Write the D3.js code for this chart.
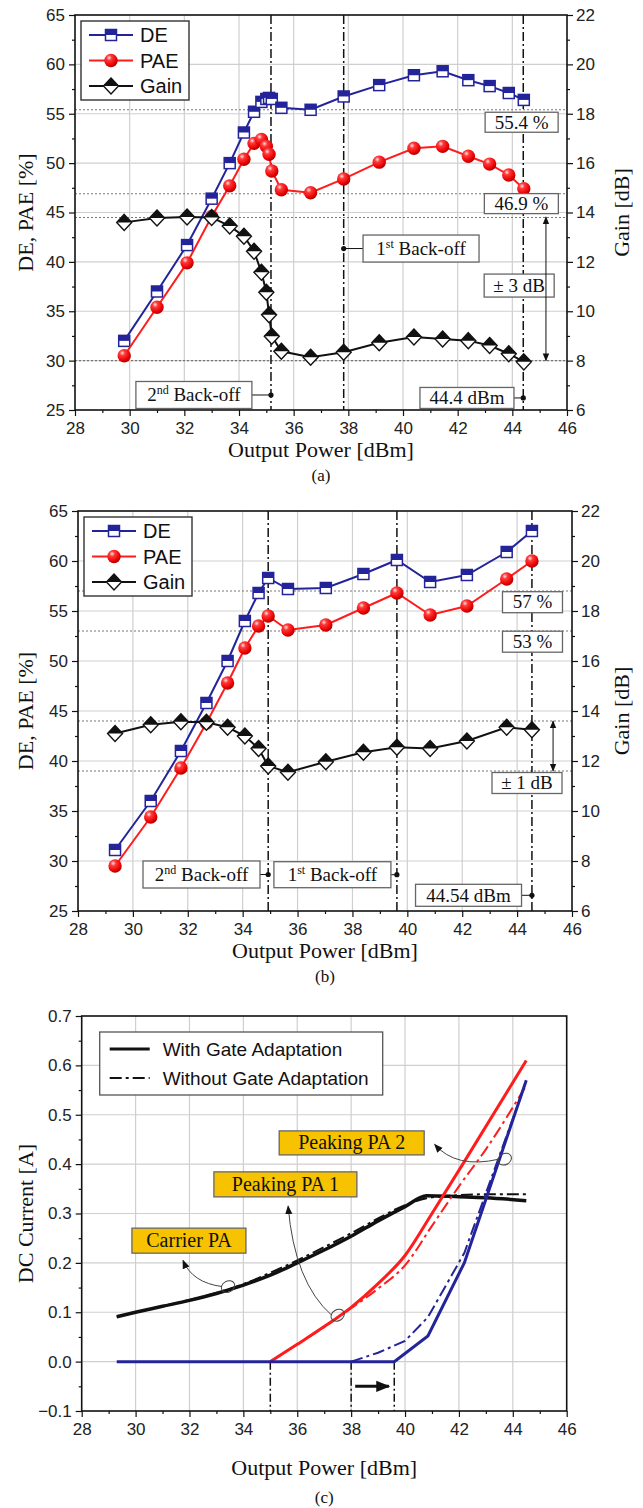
<!DOCTYPE html>
<html>
<head>
<meta charset="utf-8">
<script src="https://cdn.jsdelivr.net/npm/d3@7"></script>
<style>
  body { margin: 0; background: #fff; }
  svg { display: block; }
  .tick text { font-family: "Liberation Sans", Arial, sans-serif; font-size: 17px; fill: #222; }
  .tick line { stroke: #111; stroke-width: 1.2; }
  .serif { font-family: "Liberation Serif", "Times New Roman", serif; fill: #111; }
  .sans { font-family: "Liberation Sans", Arial, sans-serif; fill: #111; }
</style>
</head>
<body>
<svg id="chart" width="643" height="1508"></svg>
<script>
// ---- axis ticks ----
const powerTicks = d3.range(28, 47, 2);
const powerMinor = d3.range(29, 46, 2);
const effTicks = d3.range(25, 66, 5);
const effMinor = d3.range(27.5, 65, 5);
const gainTicks = d3.range(6, 23, 2);
const gainMinor = d3.range(7, 22, 2);
const currentTicks = [-0.1, 0.0, 0.1, 0.2, 0.3, 0.4, 0.5, 0.6, 0.7];
const currentMinor = [-0.05, 0.05, 0.15, 0.25, 0.35, 0.45, 0.55, 0.65];

// ---- (a) measured ----
const powerA = [29.8, 31.0, 32.1, 33.0, 33.66, 34.18, 34.55, 34.82, 35.0, 35.1, 35.2, 35.55, 36.62, 37.83, 39.13, 40.4, 41.45, 42.39, 43.17, 43.87, 44.42];
const deA    = [32.0, 37.0, 41.7, 46.4, 50.0, 53.1, 55.2, 56.2, 56.5, 56.6, 56.5, 55.6, 55.4, 56.75, 57.9, 58.9, 59.3, 58.4, 57.8, 57.1, 56.4];
const paeA   = [30.5, 35.4, 39.9, 44.6, 47.7, 50.4, 52.0, 52.4, 51.7, 50.9, 49.2, 47.3, 47.0, 48.4, 50.1, 51.5, 51.7, 50.7, 49.9, 48.8, 47.4];
const gainA  = [13.6, 13.78, 13.82, 13.8, 13.45, 13.04, 12.43, 11.58, 10.77, 9.86, 8.99, 8.38, 8.14, 8.34, 8.72, 8.96, 8.88, 8.81, 8.61, 8.28, 7.95];
const backoffA = [35.17, 37.83, 44.4];
const refEffA = [55.4, 46.9];
const refGainA = [13.8, 8.0];

// ---- (b) measured ----
const powerB = [29.35, 30.65, 31.75, 32.68, 33.45, 34.08, 34.58, 34.93, 35.65, 37.03, 38.4, 39.62, 40.83, 42.17, 43.62, 44.54];
const deB    = [31.1, 36.0, 41.0, 45.8, 50.0, 54.0, 56.8, 58.3, 57.2, 57.3, 58.7, 60.1, 57.9, 58.6, 60.9, 63.0];
const paeB   = [29.5, 34.4, 39.3, 43.8, 47.8, 51.3, 53.5, 54.5, 53.1, 53.6, 55.3, 56.8, 54.6, 55.5, 58.2, 60.0];
const gainB  = [13.1, 13.45, 13.57, 13.55, 13.35, 13.0, 12.5, 11.8, 11.55, 11.97, 12.35, 12.55, 12.5, 12.8, 13.35, 13.25];
const backoffB = [34.93, 39.62, 44.54];
const refEffB = [57, 53];
const refGainB = [13.6, 11.6];

// ---- (c) DC current ----
const carrierPower   = [29.3, 30, 31, 32, 33, 34, 35, 36, 37, 38, 39, 40, 40.8, 42, 43, 44.5];
const carrierWith    = [0.091, 0.1, 0.112, 0.124, 0.138, 0.155, 0.175, 0.2, 0.226, 0.254, 0.285, 0.314, 0.336, 0.334, 0.332, 0.326];
const carrierWithout = [0.091, 0.1, 0.112, 0.125, 0.139, 0.157, 0.18, 0.205, 0.232, 0.26, 0.29, 0.317, 0.331, 0.337, 0.339, 0.339];
const peak1PowerWith = [35, 36, 37, 38, 39, 40, 41, 42.2, 44.5];
const peak1With      = [0, 0.035, 0.071, 0.11, 0.158, 0.215, 0.3, 0.405, 0.61];
const peak1PowerWithout = [35, 36, 37, 38, 39, 40, 41, 42, 43, 44.45];
const peak1Without      = [0, 0.035, 0.07, 0.108, 0.148, 0.195, 0.275, 0.355, 0.43, 0.555];
const peak2PowerWith = [29.3, 39.6, 40.85, 42.2, 44.5];
const peak2With      = [0, 0, 0.052, 0.2, 0.57];
const peak2PowerWithout = [38, 39, 40, 40.85, 42.2, 44.45];
const peak2Without      = [0, 0.018, 0.042, 0.09, 0.22, 0.56];
const turnOnPower = [35, 38, 39.6];

const svg = d3.select('#chart');
const navy = '#24249a', red = '#ff1c1c', dark = '#111';

const defs = svg.append('defs');
const grad = defs.append('radialGradient').attr('id', 'ball').attr('cx', '36%').attr('cy', '30%').attr('r', '70%');
grad.append('stop').attr('offset', '0%').attr('stop-color', '#ffe4e4');
grad.append('stop').attr('offset', '28%').attr('stop-color', '#ff3a3a');
grad.append('stop').attr('offset', '80%').attr('stop-color', '#e80000');
grad.append('stop').attr('offset', '100%').attr('stop-color', '#b00000');
function arrowMarker(id, size) {
    defs.append('marker').attr('id', id).attr('viewBox', '0 0 10 10')
        .attr('refX', 9).attr('refY', 5)
        .attr('markerWidth', size).attr('markerHeight', size)
        .attr('markerUnits', 'userSpaceOnUse').attr('orient', 'auto-start-reverse')
        .append('path').attr('d', 'M0,1 L10,5 L0,9 Z').attr('fill', dark);
}
arrowMarker('head', 8);
arrowMarker('headBig', 14);
arrowMarker('headThin', 9);

function grid(g, x, y, xs, ys) {
    g.append('g').selectAll('line').data(xs).join('line')
        .attr('x1', d => x(d)).attr('x2', d => x(d))
        .attr('y1', y.range()[0]).attr('y2', y.range()[1])
        .attr('stroke', '#cfcfcf').attr('stroke-width', 1.2);
    g.append('g').selectAll('line').data(ys).join('line')
        .attr('y1', d => y(d)).attr('y2', d => y(d))
        .attr('x1', x.range()[0]).attr('x2', x.range()[1])
        .attr('stroke', '#cfcfcf').attr('stroke-width', 1.2);
}

function axes(g, x, y, yRight, yT, yM, yRT, yRM, fmt) {
    const [x0, x1] = x.range(), [y0, y1] = y.range();
    const clean = s => s.select('.domain').remove();
    g.append('g').attr('transform', `translate(0,${y0})`)
        .call(d3.axisBottom(x).tickValues(powerTicks).tickSize(6).tickPadding(6)).call(clean);
    g.append('g').attr('transform', `translate(0,${y0})`)
        .call(d3.axisBottom(x).tickValues(powerMinor).tickSize(3).tickFormat('')).call(clean);
    g.append('g').attr('transform', `translate(${x0},0)`)
        .call(d3.axisLeft(y).tickValues(yT).tickSize(6).tickPadding(4).tickFormat(fmt)).call(clean);
    g.append('g').attr('transform', `translate(${x0},0)`)
        .call(d3.axisLeft(y).tickValues(yM).tickSize(3).tickFormat('')).call(clean);
    if (yRight) {
        g.append('g').attr('transform', `translate(${x1},0)`)
            .call(d3.axisRight(yRight).tickValues(yRT).tickSize(6).tickPadding(3)).call(clean);
        g.append('g').attr('transform', `translate(${x1},0)`)
            .call(d3.axisRight(yRight).tickValues(yRM).tickSize(3).tickFormat('')).call(clean);
    }
    g.append('rect').attr('x', x0).attr('y', y1).attr('width', x1 - x0).attr('height', y0 - y1)
        .attr('fill', 'none').attr('stroke', dark).attr('stroke-width', 1.6);
}

function labelBox(g, cx, cy, w, h, parts, opt) {
    opt = opt || {};
    const size = opt.size || 19;
    g.append('rect').attr('x', cx - w / 2).attr('y', cy - h / 2).attr('width', w).attr('height', h)
        .attr('fill', opt.fill || '#fff').attr('stroke', opt.stroke || '#666').attr('stroke-width', 1.3);
    const t = g.append('text').attr('class', 'serif').attr('x', cx).attr('y', cy + size * 0.33)
        .attr('text-anchor', 'middle').style('font-size', size + 'px');
    parts.forEach(p => {
        const ts = t.append('tspan').text(p.t);
        if (p.sup) ts.attr('baseline-shift', 'super').style('font-size', '12px');
    });
}

function dotLink(g, dx, cx, cy, w) {
    const edge = dx > cx ? cx + w / 2 : cx - w / 2;
    g.append('line').attr('x1', dx).attr('x2', edge).attr('y1', cy).attr('y2', cy)
        .attr('stroke', dark).attr('stroke-width', 1);
    g.append('circle').attr('cx', dx).attr('cy', cy).attr('r', 2.6).attr('fill', dark);
}

function legendAB(g, bx, by) {
    g.append('rect').attr('x', bx).attr('y', by).attr('width', 108).attr('height', 79)
        .attr('fill', '#fff').attr('stroke', '#333').attr('stroke-width', 1.4);
    const rows = [['DE', navy, 'sq'], ['PAE', red, 'ball'], ['Gain', dark, 'dia']];
    rows.forEach((r, i) => {
        const yy = by + 14 + i * 25.5;
        g.append('line').attr('x1', bx + 8).attr('x2', bx + 52).attr('y1', yy).attr('y2', yy)
            .attr('stroke', r[1]).attr('stroke-width', 2);
        const m = g.append('g').attr('transform', `translate(${bx + 30},${yy})`);
        drawMarker(m, r[2]);
        g.append('text').attr('class', 'sans').attr('x', bx + 59).attr('y', yy + 7)
            .style('font-size', '20px').text(r[0]);
    });
}

function drawMarker(sel, kind) {
    if (kind === 'sq') {
        sel.append('rect').attr('x', -5.5).attr('y', -5.5).attr('width', 11).attr('height', 11)
            .attr('fill', '#fff').attr('stroke', navy).attr('stroke-width', 1.5);
        sel.append('rect').attr('x', -5.5).attr('y', -5.5).attr('width', 11).attr('height', 5.5).attr('fill', navy);
    } else if (kind === 'ball') {
        sel.append('circle').attr('r', 6.7).attr('fill', 'url(#ball)');
    } else {
        sel.append('path').attr('d', 'M0,-8 L7.5,0 L0,8 L-7.5,0 Z').attr('fill', '#fff')
            .attr('stroke', dark).attr('stroke-width', 1.4);
        sel.append('path').attr('d', 'M0,-8 L7.5,0 L-7.5,0 Z').attr('fill', dark);
    }
}

function drawEffPanel(cfg) {
    const g = svg.append('g');
    const x = d3.scaleLinear().domain([28, 46]).range([cfg.left, cfg.right]);
    const y = d3.scaleLinear().domain([25, 65]).range([cfg.bottom, cfg.top]);
    const yg = d3.scaleLinear().domain([6, 22]).range([cfg.bottom, cfg.top]);

    grid(g, x, y, powerTicks.slice(1, -1), effTicks.slice(1, -1));

    const refs = cfg.refEff.map(v => y(v)).concat(cfg.refGain.map(v => yg(v)));
    g.append('g').selectAll('line').data(refs).join('line')
        .attr('x1', cfg.left).attr('x2', cfg.right).attr('y1', d => d).attr('y2', d => d)
        .attr('stroke', '#777').attr('stroke-width', 1.1).attr('stroke-dasharray', '2,2');
    g.append('g').selectAll('line').data(cfg.backoff).join('line')
        .attr('x1', d => x(d)).attr('x2', d => x(d)).attr('y1', cfg.top).attr('y2', cfg.bottom)
        .attr('stroke', dark).attr('stroke-width', 1.5).attr('stroke-dasharray', '9,3,2,3');

    const series = [
        [cfg.de, y, navy, 'sq'],
        [cfg.pae, y, red, 'ball'],
        [cfg.gain, yg, dark, 'dia']
    ];
    series.forEach(([vals, sc, col, kind]) => {
        const pts = d3.zip(cfg.power, vals);
        g.append('path').datum(pts)
            .attr('d', d3.line().x(d => x(d[0])).y(d => sc(d[1])))
            .attr('fill', 'none').attr('stroke', col).attr('stroke-width', 2);
        g.append('g').selectAll('g').data(pts).join('g')
            .attr('transform', d => `translate(${x(d[0])},${sc(d[1])})`)
            .each(function () { drawMarker(d3.select(this), kind); });
    });

    cfg.boxes.forEach(b => {
        const cx = x(b.x), cy = y(b.y);
        if (b.dot !== undefined) dotLink(g, x(b.dot), cx, cy, b.w);
        labelBox(g, cx, cy, b.w, b.h, b.parts);
    });
    const ax = x(cfg.span.x);
    g.append('line').attr('x1', ax).attr('x2', ax)
        .attr('y1', y(cfg.span.from)).attr('y2', y(cfg.span.to))
        .attr('stroke', dark).attr('stroke-width', 1)
        .attr('marker-start', 'url(#head)').attr('marker-end', 'url(#head)');

    legendAB(g, cfg.left + 6, cfg.top + 6);
    axes(g, x, y, yg, effTicks, effMinor, gainTicks, gainMinor, d3.format('d'));

    const midY = (cfg.top + cfg.bottom) / 2;
    g.append('text').attr('class', 'serif').attr('transform', `translate(33,${midY}) rotate(-90)`)
        .attr('text-anchor', 'middle').style('font-size', '22px').text('DE, PAE [%]');
    g.append('text').attr('class', 'serif').attr('transform', `translate(629,${midY}) rotate(-90)`)
        .attr('text-anchor', 'middle').style('font-size', '22px').text('Gain [dB]');
    const midX = (cfg.left + cfg.right) / 2;
    g.append('text').attr('class', 'serif').attr('x', midX).attr('y', cfg.bottom + 47)
        .attr('text-anchor', 'middle').style('font-size', '22px').text('Output Power [dBm]');
    g.append('text').attr('class', 'serif').attr('x', midX).attr('y', cfg.bottom + 71)
        .attr('text-anchor', 'middle').style('font-size', '17px').text(cfg.caption);
}

const BO2 = [{ t: '2' }, { t: 'nd', sup: true }, { t: ' Back-off' }];
const BO1 = [{ t: '1' }, { t: 'st', sup: true }, { t: ' Back-off' }];

drawEffPanel({
    left: 75, right: 567, top: 15, bottom: 410,
    power: powerA, de: deA, pae: paeA, gain: gainA,
    refEff: refEffA, refGain: refGainA, backoff: backoffA,
    boxes: [
        { x: 44.34, y: 54.14, w: 73, h: 20, parts: [{ t: '55.4 %' }] },
        { x: 44.33, y: 45.9, w: 74, h: 20, parts: [{ t: '46.9 %' }] },
        { x: 40.66, y: 41.35, w: 116, h: 27, parts: BO1, dot: backoffA[1] },
        { x: 44.25, y: 37.6, w: 70, h: 23, parts: [{ t: '± 3 dB' }] },
        { x: 32.35, y: 26.52, w: 116, h: 27, parts: BO2, dot: backoffA[0] },
        { x: 42.34, y: 26.22, w: 94, h: 21, parts: [{ t: '44.4 dBm' }], dot: backoffA[2] }
    ],
    span: { x: 45.23, from: 44.55, to: 30 },
    caption: '(a)'
});

drawEffPanel({
    left: 78, right: 572, top: 511, bottom: 911,
    power: powerB, de: deB, pae: paeB, gain: gainB,
    refEff: refEffB, refGain: refGainB, backoff: backoffB,
    boxes: [
        { x: 44.56, y: 55.88, w: 60, h: 21, parts: [{ t: '57 %' }] },
        { x: 44.56, y: 51.93, w: 60, h: 21, parts: [{ t: '53 %' }] },
        { x: 44.36, y: 37.8, w: 70, h: 21, parts: [{ t: '± 1 dB' }] },
        { x: 32.5, y: 28.65, w: 117, h: 27, parts: BO2, dot: backoffB[0] },
        { x: 37.27, y: 28.63, w: 117, h: 26, parts: BO1, dot: backoffB[1] },
        { x: 42.23, y: 26.57, w: 106, h: 22, parts: [{ t: '44.54 dBm' }], dot: backoffB[2] }
    ],
    span: { x: 45.31, from: 44, to: 39 },
    caption: '(b)'
});

// ---- (c) ----
(function () {
    const L = 81.7, R = 566.7, T = 1016, B = 1411;
    const g = svg.append('g');
    const x = d3.scaleLinear().domain([28, 46]).range([L, R]);
    const y = d3.scaleLinear().domain([-0.1, 0.7]).range([B, T]);
    grid(g, x, y, powerTicks.slice(1, -1), currentTicks.slice(1, -1));

    g.append('g').selectAll('line').data(turnOnPower).join('line')
        .attr('x1', d => x(d)).attr('x2', d => x(d)).attr('y1', y(0)).attr('y2', B)
        .attr('stroke', dark).attr('stroke-width', 1.5).attr('stroke-dasharray', '8,3,2,3');
    g.append('line').attr('x1', x(38.15)).attr('x2', x(39.4)).attr('y1', y(-0.05)).attr('y2', y(-0.05))
        .attr('stroke', dark).attr('stroke-width', 3).attr('marker-end', 'url(#headBig)');

    const dashDot = '12,4,3,4';
    const curves = [
        [carrierPower, carrierWithout, dark, 2, dashDot, d3.curveMonotoneX],
        [carrierPower, carrierWith, dark, 3.5, null, d3.curveMonotoneX],
        [peak1PowerWithout, peak1Without, red, 2, dashDot, d3.curveMonotoneX],
        [peak1PowerWith, peak1With, red, 3, null, d3.curveMonotoneX],
        [peak2PowerWithout, peak2Without, navy, 2, dashDot, d3.curveLinear],
        [peak2PowerWith, peak2With, navy, 3, null, d3.curveLinear]
    ];
    curves.forEach(([px, py, col, sw, dash, curve]) => {
        g.append('path').datum(d3.zip(px, py))
            .attr('d', d3.line().curve(curve).x(d => x(d[0])).y(d => y(d[1])))
            .attr('fill', 'none').attr('stroke', col).attr('stroke-width', sw)
            .attr('stroke-dasharray', dash);
    });

    // callouts
    const callouts = [
        { label: 'Carrier PA', bx: 31.98, by: 0.245, w: 114, h: 25, head: [31.76, 0.205], ctrl: [32.1, 0.16], ring: [33.43, 0.152] },
        { label: 'Peaking PA 1', bx: 35.56, by: 0.359, w: 143, h: 25, head: [35.66, 0.315], ctrl: [35.9, 0.16], ring: [37.5, 0.094] },
        { label: 'Peaking PA 2', bx: 38.02, by: 0.443, w: 145, h: 24, head: [41.1, 0.44], ctrl: [41.9, 0.39], ring: [43.7, 0.41] }
    ];
    callouts.forEach(c => {
        labelBox(g, x(c.bx), y(c.by), c.w, c.h, [{ t: c.label }], { fill: '#f7c300', stroke: '#666', size: 20 });
        const rx = x(c.ring[0]), ry = y(c.ring[1]);
        g.append('path')
            .attr('d', `M${x(c.head[0])},${y(c.head[1])} Q${x(c.ctrl[0])},${y(c.ctrl[1])} ${rx - 6},${ry}`)
            .attr('fill', 'none').attr('stroke', '#444').attr('stroke-width', 1)
            .attr('marker-start', 'url(#headThin)');
        g.append('ellipse').attr('cx', rx).attr('cy', ry).attr('rx', 7).attr('ry', 5.5)
            .attr('transform', `rotate(-30,${rx},${ry})`)
            .attr('fill', 'none').attr('stroke', '#444').attr('stroke-width', 1);
    });

    // legend
    const lx = L + 18, ly = T + 16;
    g.append('rect').attr('x', lx).attr('y', ly).attr('width', 283).attr('height', 63)
        .attr('fill', '#fff').attr('stroke', '#555').attr('stroke-width', 1.3);
    [['With Gate Adaptation', 3, null], ['Without Gate Adaptation', 2, dashDot]].forEach((r, i) => {
        const yy = ly + 17 + i * 29;
        g.append('line').attr('x1', lx + 10).attr('x2', lx + 50).attr('y1', yy).attr('y2', yy)
            .attr('stroke', dark).attr('stroke-width', r[1]).attr('stroke-dasharray', r[2]);
        g.append('text').attr('class', 'sans').attr('x', lx + 63).attr('y', yy + 7)
            .style('font-size', '19px').text(r[0]);
    });

    axes(g, x, y, null, currentTicks, currentMinor, null, null, d3.format('.1f'));
    const midY = (T + B) / 2, midX = (L + R) / 2;
    g.append('text').attr('class', 'serif').attr('transform', `translate(33,${midY}) rotate(-90)`)
        .attr('text-anchor', 'middle').style('font-size', '22px').text('DC Current [A]');
    g.append('text').attr('class', 'serif').attr('x', midX).attr('y', B + 64)
        .attr('text-anchor', 'middle').style('font-size', '22px').text('Output Power [dBm]');
    g.append('text').attr('class', 'serif').attr('x', midX).attr('y', B + 92)
        .attr('text-anchor', 'middle').style('font-size', '17px').text('(c)');
})();
</script>
</body>
</html>
